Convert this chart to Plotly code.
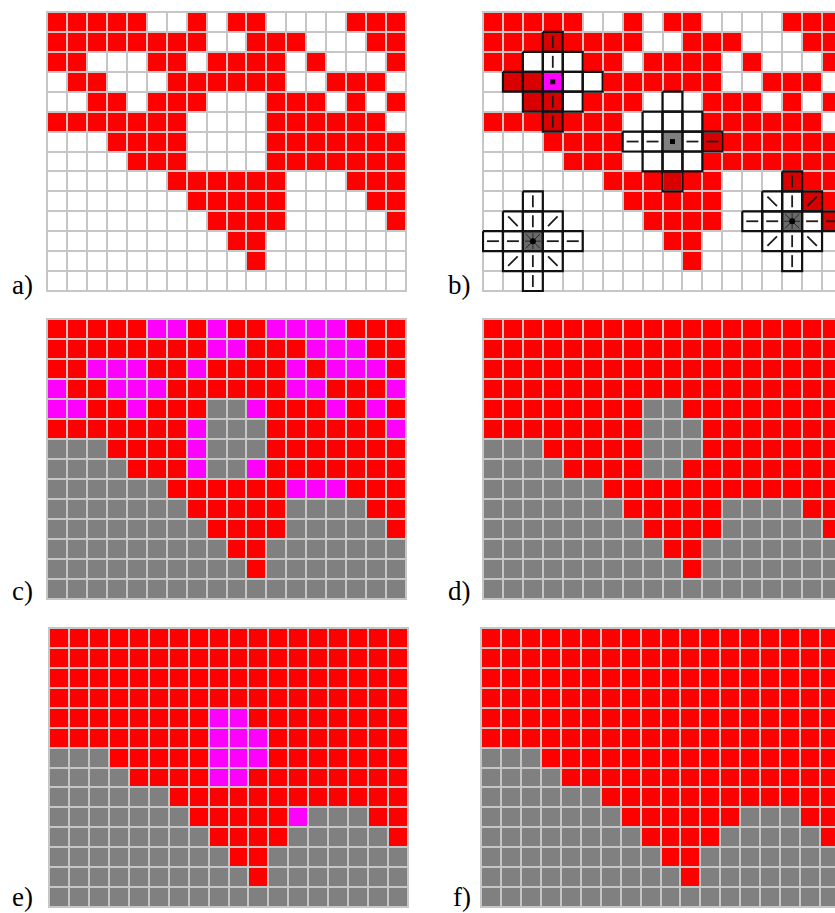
import plotly.graph_objects as go

FIG_W, FIG_H = 835, 913

# Cell states: '.' empty, 'R' filled, 'G' outside, 'M' marked
GRID_A = [
    "RRRRR..R.RR....RRR",
    "RRRRRRRR..RRR...RR",
    "RR...RR.RRRR.R...R",
    ".RR...RRRRRR..RRR.",
    "..RR.RRR...RRR.R.R",
    "RRRRRRR....RRRRRR.",
    "...RRRR....RRRRRRR",
    "....RRR....RRRRRRR",
    "......RRRRRR...RRR",
    ".......RRRRR....RR",
    "........RRRR.....R",
    ".........RR.......",
    "..........R.......",
    "..................",
]

GRID_C = [
    "RRRRRMMRMRRMMMMRRR",
    "RRRRRRRRMMRRRMMMRR",
    "RRMMMRRMRRRRMRMMMR",
    "MRRMMMRRRRRRMMRRRM",
    "MMRRMRRRGGMRRRMRMR",
    "RRRRRRRMGGGRRRRRRM",
    "GGGRRRRMGGGRRRRRRR",
    "GGGGRRRMGGMRRRRRRR",
    "GGGGGGRRRRRRMMMRRR",
    "GGGGGGGRRRRRGGGGRR",
    "GGGGGGGGRRRRGGGGGR",
    "GGGGGGGGGRRGGGGGGG",
    "GGGGGGGGGGRGGGGGGG",
    "GGGGGGGGGGGGGGGGGG",
]

GRID_E = [
    "RRRRRRRRRRRRRRRRRR",
    "RRRRRRRRRRRRRRRRRR",
    "RRRRRRRRRRRRRRRRRR",
    "RRRRRRRRRRRRRRRRRR",
    "RRRRRRRRMMRRRRRRRR",
    "RRRRRRRRMMMRRRRRRR",
    "GGGRRRRRMMMRRRRRRR",
    "GGGGRRRRMMRRRRRRRR",
    "GGGGGGRRRRRRRRRRRR",
    "GGGGGGGRRRRRMGGGRR",
    "GGGGGGGGRRRRGGGGGR",
    "GGGGGGGGGRRGGGGGGG",
    "GGGGGGGGGGRGGGGGGG",
    "GGGGGGGGGGGGGGGGGG",
]

# Neighbourhood stencils drawn on panel b
STENCIL_ROW = [3, 6, 11, 10]
STENCIL_COL = [3, 9, 2, 15]
STENCIL_DIRS = ["v", "h", "vhd", "vhd"]   # v: vertical, h: horizontal, d: diagonal
STENCIL_CENTER = ["M", "G", "D", "D"]
STENCIL_RADIUS = 2

PANEL_LABELS = ["a)", "b)", "c)", "d)", "e)", "f)"]

# colour per state; 'K' = filled cell under a stencil, 'D' = stencil centre
STATE_CODE = {".": 0, "R": 1, "G": 2, "M": 3, "K": 4, "D": 5}
STATE_COLOR = ["#ffffff", "#ff0000", "#808080", "#ff00ff", "#d80000", "#6a6a6a"]
GRID_LINE = "#c6c6c6"

# panel placement in pixels: left, top, width, height of the full grid
PANEL_BOX = [
    (46, 11, 361, 281), (482, 11, 361, 281),
    (46, 318, 361, 282), (482, 318, 361, 282),
    (48, 627, 361, 281), (480, 627, 361, 281),
]
LABEL_POS = [(10, 285), (446, 285), (10, 591), (446, 591), (10, 897), (451, 897)]


def stencil_cells():
    cells = []
    for dr in range(-STENCIL_RADIUS, STENCIL_RADIUS + 1):
        for dc in range(-STENCIL_RADIUS, STENCIL_RADIUS + 1):
            if abs(dr) + abs(dc) <= STENCIL_RADIUS:
                cells.append((dr, dc))
    return cells


def recolor(grid, src, dst):
    return [row.replace(src, dst) for row in grid]


def grid_b():
    g = [list(row) for row in GRID_A]
    for r0, c0, centre in zip(STENCIL_ROW, STENCIL_COL, STENCIL_CENTER):
        for dr, dc in stencil_cells():
            r, c = r0 + dr, c0 + dc
            if 0 <= r < len(g) and 0 <= c < len(g[0]) and g[r][c] == "R":
                g[r][c] = "K"
        g[r0][c0] = centre
    return ["".join(row) for row in g]


GRIDS = [GRID_A, grid_b(), GRID_C, recolor(GRID_C, "M", "R"),
         GRID_E, recolor(GRID_E, "M", "R")]

n_states = len(STATE_COLOR)
colorscale = []
for k, col in enumerate(STATE_COLOR):
    colorscale.append([k / n_states, col])
    colorscale.append([(k + 1) / n_states, col])

fig = go.Figure()
layout_axes = {}

for i, (grid, box) in enumerate(zip(GRIDS, PANEL_BOX)):
    n_rows, n_cols = len(grid), len(grid[0])
    left, top, width, height = box
    cw = width / n_cols
    ch = height / n_rows
    pad_x = 1.0 / cw
    pad_y = 1.0 / ch
    right = min(left + width, FIG_W)
    x0 = -0.5 - pad_x
    x1 = x0 + (right - left) * (n_cols + 2 * pad_x) / width
    sfx = "" if i == 0 else str(i + 1)
    z = [[STATE_CODE[s] for s in row] for row in grid]
    fig.add_trace(go.Heatmap(
        z=z, x=list(range(n_cols)), y=list(range(n_rows)),
        colorscale=colorscale, zmin=-0.5, zmax=n_states - 0.5,
        showscale=False, xgap=2, ygap=2, hoverinfo="skip",
        xaxis="x" + sfx, yaxis="y" + sfx,
    ))
    layout_axes["xaxis" + sfx] = dict(
        domain=[left / FIG_W, right / FIG_W], range=[x0, x1],
        visible=False, anchor="y" + sfx, fixedrange=True)
    layout_axes["yaxis" + sfx] = dict(
        domain=[1 - (top + height) / FIG_H, 1 - top / FIG_H],
        range=[n_rows - 0.5 + pad_y, -0.5 - pad_y],
        visible=False, anchor="x" + sfx, fixedrange=True)

# stencil overlays on panel b
box_x, box_y = [], []
dash_x, dash_y = [], []
star_x, star_y = [], []
dot_sq_x, dot_sq_y, dot_ci_x, dot_ci_y = [], [], [], []
for r0, c0, dirs in zip(STENCIL_ROW, STENCIL_COL, STENCIL_DIRS):
    for dr, dc in stencil_cells():
        r, c = r0 + dr, c0 + dc
        box_x += [c - 0.5, c + 0.5, c + 0.5, c - 0.5, c - 0.5, None]
        box_y += [r - 0.5, r - 0.5, r + 0.5, r + 0.5, r - 0.5, None]
        if dr == 0 and dc == 0:
            continue
        kind = "v" if dc == 0 else ("h" if dr == 0 else "d")
        if kind not in dirs:
            continue
        m = max(abs(dr), abs(dc))
        ur, uc = dr / m, dc / m
        h = 0.3 if kind != "d" else 0.24
        dash_x += [c - uc * h, c + uc * h, None]
        dash_y += [r - ur * h, r + ur * h, None]
    if "d" in dirs:
        for ur in (-1, 0, 1):
            for uc in (-1, 0, 1):
                if ur == 0 and uc == 0:
                    continue
                h = 0.4 if (ur == 0 or uc == 0) else 0.36
                star_x += [c0, c0 + uc * h, None]
                star_y += [r0, r0 + ur * h, None]
        dot_ci_x.append(c0)
        dot_ci_y.append(r0)
    else:
        dot_sq_x.append(c0)
        dot_sq_y.append(r0)

common = dict(xaxis="x2", yaxis="y2", hoverinfo="skip", showlegend=False)
fig.add_trace(go.Scatter(x=star_x, y=star_y, mode="lines",
                         line=dict(color="#2a2a2a", width=1), **common))
fig.add_trace(go.Scatter(x=dash_x, y=dash_y, mode="lines",
                         line=dict(color="#1c1c1c", width=1.8), **common))
fig.add_trace(go.Scatter(x=box_x, y=box_y, mode="lines",
                         line=dict(color="#111111", width=2.2), **common))
fig.add_trace(go.Scatter(x=dot_sq_x, y=dot_sq_y, mode="markers",
                         marker=dict(symbol="square", size=5, color="#000000"),
                         cliponaxis=True, **common))
fig.add_trace(go.Scatter(x=dot_ci_x, y=dot_ci_y, mode="markers",
                         marker=dict(symbol="circle", size=6, color="#000000"),
                         cliponaxis=True, **common))

annotations = []
for text, (lx, ly) in zip(PANEL_LABELS, LABEL_POS):
    annotations.append(dict(
        text=text, x=lx / FIG_W, y=1 - ly / FIG_H, xref="paper", yref="paper",
        xanchor="left", yanchor="middle", showarrow=False,
        font=dict(family="'Liberation Serif', 'Times New Roman', serif",
                  size=27, color="#000000")))

fig.update_layout(
    width=FIG_W, height=FIG_H,
    margin=dict(l=0, r=0, t=0, b=0),
    paper_bgcolor="#ffffff", plot_bgcolor=GRID_LINE,
    showlegend=False, annotations=annotations, **layout_axes)

fig.write_html("out.html", config={"displayModeBar": False})
